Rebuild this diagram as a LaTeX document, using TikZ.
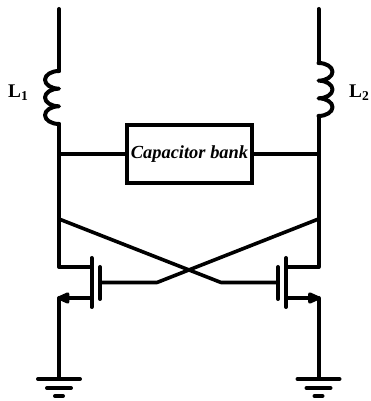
\documentclass[tikz,border=0pt]{standalone}
\usepackage{fontspec}
\setmainfont{Liberation Serif}
\usetikzlibrary{arrows.meta}

\begin{document}
\begin{tikzpicture}[x=0.02cm, y=0.02cm,
wire_style/.style={line width=0.08cm, black, line cap=round, line join=round},
thin_wire/.style={line width=0.072cm, black, line cap=round, line join=round},
source_style/.style={thin_wire, -{Triangle[length=0.3cm, width=0.24cm, round]}, shorten >=-0.03cm},
box_style/.style={rectangle, draw=black, line width=0.085cm, minimum width=2.5cm, minimum height=1.16cm, inner sep=0pt, font=\fontsize{10.5}{12}\selectfont\bfseries\itshape},
label_style/.style={inner sep=0pt, font=\fontsize{11}{13}\selectfont\bfseries},
		]

	\useasboundingbox (0,0) rectangle (370,401);

	% left branch
	\coordinate (top1) at (59,392);
	\coordinate (coil1a) at (59,330);
	\coordinate (coil1b) at (59,277);
	\coordinate (cap1) at (59,247);
	\coordinate (cross1) at (59,182);
	\coordinate (drain1) at (59,134);
	\coordinate (source1) at (59,103);
	\coordinate (gnd1) at (59,22);

	% right branch
	\coordinate (top2) at (318.5,392);
	\coordinate (coil2a) at (318.5,338);
	\coordinate (coil2b) at (318.5,285);
	\coordinate (cap2) at (318.5,247);
	\coordinate (cross2) at (318.5,182);
	\coordinate (drain2) at (318.5,134);
	\coordinate (source2) at (318.5,103);
	\coordinate (gnd2) at (318.5,22);

	\node[box_style] at (189.5,247) (capbank) {Capacitor bank};
	\node[label_style] at (18.5,308) (labelL1) {L\textsubscript{1}};
	\node[label_style] at (359.5,308) (labelL2) {L\textsubscript{2}};

	% mosfet pins
	\coordinate (m1d) at (91.5,134);
	\coordinate (m1s) at (91.5,103);
	\coordinate (m1top) at (91.5,143);
	\coordinate (m1bot) at (91.5,94);
	\coordinate (g1top) at (100,134);
	\coordinate (g1bot) at (100,102);
	\coordinate (g1) at (100,118.5);
	\coordinate (bend1) at (157,118.5);

	\coordinate (m2d) at (286,134);
	\coordinate (m2s) at (286,103);
	\coordinate (m2top) at (286,143);
	\coordinate (m2bot) at (286,94);
	\coordinate (g2top) at (278,134);
	\coordinate (g2bot) at (278,102);
	\coordinate (g2) at (278,118.5);
	\coordinate (bend2) at (221,118.5);

	% wires
	\draw[wire_style] (top1) -- (coil1a);
	\draw[wire_style] (top2) -- (coil2a);
	\draw[wire_style] (coil1b) -- (cross1) -- (drain1) -- (m1d);
	\draw[wire_style] (coil2b) -- (cross2) -- (drain2) -- (m2d);
	\draw[thin_wire] (cap1) -- (capbank.west);
	\draw[thin_wire] (capbank.east) -- (cap2);
	\draw[thin_wire] (cross1) -- (bend2) -- (g2);
	\draw[thin_wire] (cross2) -- (bend1) -- (g1);
	\draw[wire_style] (m1top) -- (m1bot);
	\draw[wire_style] (g1top) -- (g1bot);
	\draw[wire_style] (m2top) -- (m2bot);
	\draw[wire_style] (g2top) -- (g2bot);
	\draw[source_style] (m1s) -- (source1);
	\draw[source_style] (m2s) -- (source2);
	\draw[wire_style] (source1) -- (gnd1);
	\draw[wire_style] (source2) -- (gnd2);

	% coils
	\draw[wire_style] (coil1a) arc[start angle=90, end angle=270, x radius=14, y radius=8.83]
		arc[start angle=90, end angle=270, x radius=14, y radius=8.83]
		arc[start angle=90, end angle=270, x radius=14, y radius=8.83];
	\draw[wire_style] (coil2a) arc[start angle=90, end angle=-90, x radius=14, y radius=8.83]
		arc[start angle=90, end angle=-90, x radius=14, y radius=8.83]
		arc[start angle=90, end angle=-90, x radius=14, y radius=8.83];

	% grounds
\foreach\i in {1,2}{
		\draw[wire_style] ([xshift=-0.42cm]gnd\i) -- ([xshift=0.42cm]gnd\i);
		\draw[wire_style] ([xshift=-0.24cm,yshift=-0.18cm]gnd\i) -- ([xshift=0.24cm,yshift=-0.18cm]gnd\i);
		\draw[wire_style] ([xshift=-0.08cm,yshift=-0.34cm]gnd\i) -- ([xshift=0.08cm,yshift=-0.34cm]gnd\i);
		}

\end{tikzpicture}
\end{document}
